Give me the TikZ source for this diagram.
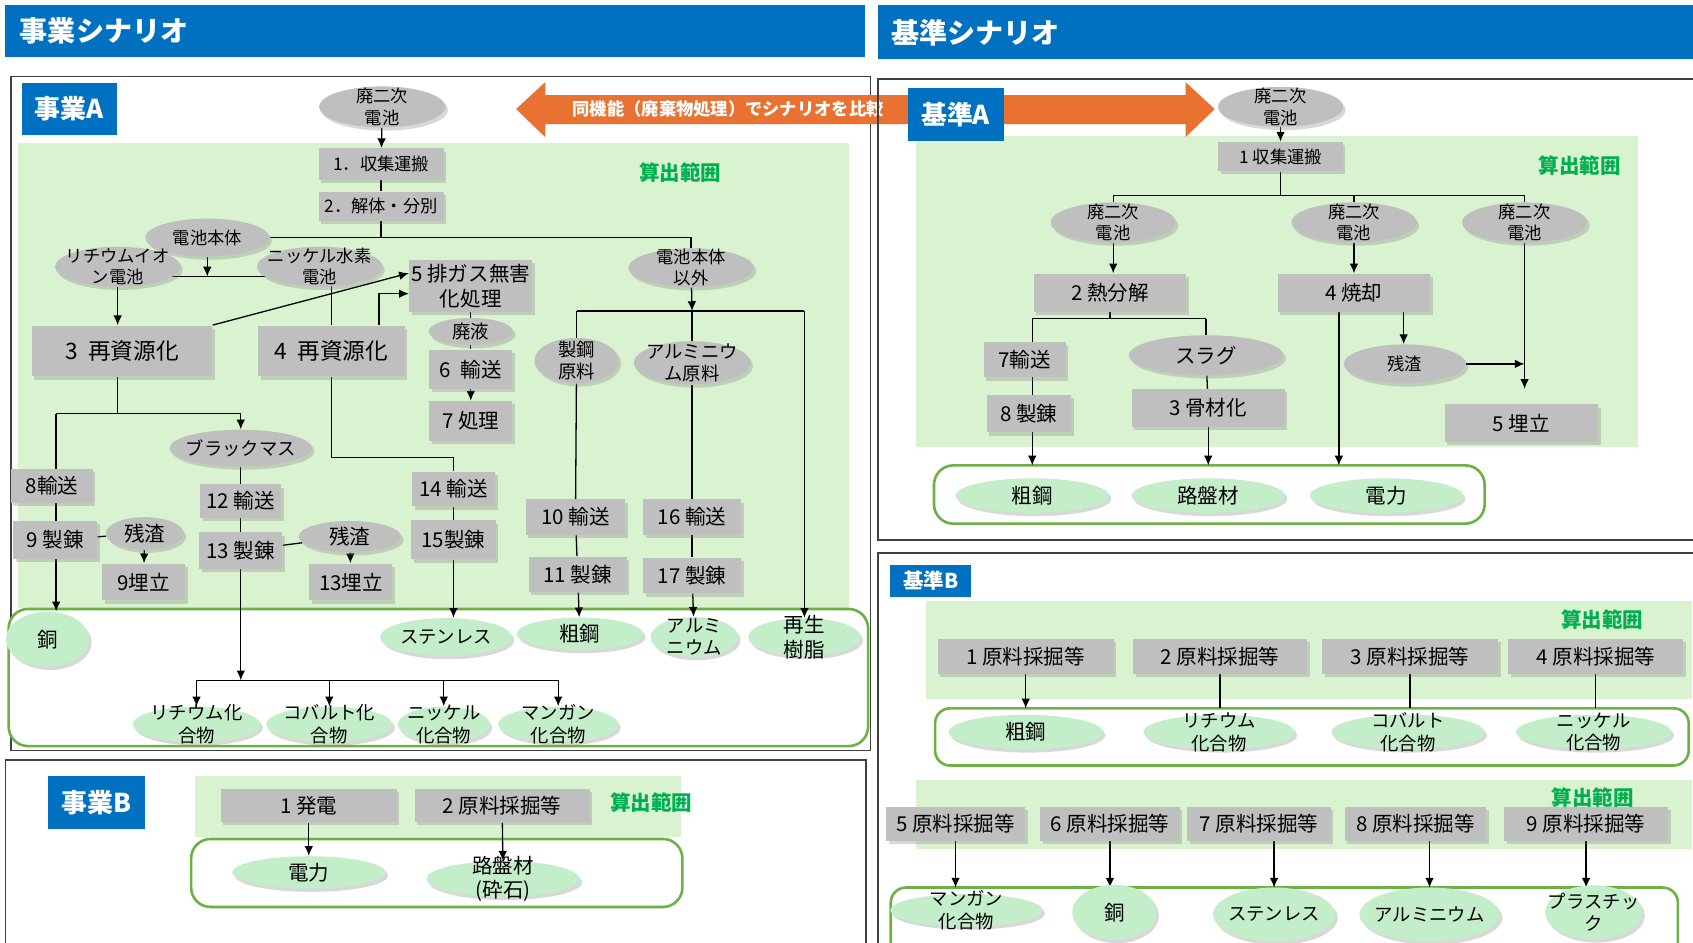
\documentclass[tikz,border=0pt]{standalone}
\usepackage{fontspec}
\setmainfont{Noto Sans CJK JP}
\usetikzlibrary{calc,shadows,arrows.meta,shapes.geometric}

\definecolor{hdrblue}{RGB}{0,112,192}
\definecolor{boxgray}{RGB}{191,191,191}
\definecolor{zonegreen}{RGB}{217,242,208}
\definecolor{prodgreen}{RGB}{196,238,202}
\definecolor{rimgreen}{RGB}{108,176,70}
\definecolor{calcgreen}{RGB}{0,176,80}
\definecolor{cmparrow}{RGB}{233,113,50}
\definecolor{framegray}{RGB}{64,64,64}

\newcommand\fsA{\fontsize{8}{9.8}\selectfont}
\newcommand\fsB{\fontsize{8.5}{10.5}\selectfont}
\newcommand\fsC{\fontsize{9.5}{11.5}\selectfont}
\newcommand\fsD{\fontsize{10.5}{12.5}\selectfont}
\newcommand\fsH{\fontsize{13}{15}\selectfont\bfseries}
\newcommand\fsT{\fontsize{12}{14}\selectfont\bfseries}

\pgfdeclarelayer{zones}
\pgfdeclarelayer{links}
\pgfsetlayers{zones,links,main}

\tikzset{
  softshadow/.style={drop shadow={opacity=0.3,shadow xshift=1.2pt,shadow yshift=-1.5pt}},
  proc/.style 2 args={rectangle, fill=boxgray, minimum width=#1*0.5pt, minimum height=#2*0.5pt, inner sep=0pt, align=center, softshadow},
  lbl/.style={align=center, inner sep=0pt, text=black},
  blob/.style n args={4}{ellipse, fill=boxgray, minimum width=#1*0.5pt, minimum height=#2*0.5pt, inner sep=0pt, softshadow, label={[lbl,font=#3]center:{#4}}},
  prod/.style n args={4}{ellipse, fill=prodgreen, minimum width=#1*0.5pt, minimum height=#2*0.5pt, inner sep=0pt, softshadow, label={[lbl,font=#3]center:{#4}}},
  tag/.style 2 args={rectangle, fill=hdrblue, text=white, minimum width=#1*0.5pt, minimum height=#2*0.5pt, inner sep=0pt},
  scopetxt/.style={text=calcgreen, font=\fsC\bfseries},
  hdrtext/.style={text=white, font=\fsH, anchor=west, inner sep=0pt},
  panel/.style={draw=framegray, fill=white, line width=0.7pt},
  rim/.style={draw=rimgreen, fill=white, line width=1.2pt, rounded corners=9pt},
  link/.style={draw=black, line width=0.6pt},
  flow/.style={link, -{Latex[length=4.5pt,width=4pt]}},
}

\begin{document}
\begin{tikzpicture}[x=0.5pt,y=-0.5pt,font=\fsB]
  \useasboundingbox (0,0) rectangle (1568,873);

  %%%%% frames, zones, output boxes %%%%%
  \begin{pgfonlayer}{zones}
    \fill[white] (0,0) rectangle (1568,873);
    \draw[panel] (10,71) rectangle (806,695);
    \draw[panel] (5,704) rectangle (802,900);
    \draw[panel] (813,73) rectangle (1600,500);
    \draw[panel] (813,512) rectangle (1600,900);

    \fill[zonegreen] (17,132) rectangle (786,563);
    \fill[zonegreen] (181,719) rectangle (631,775);
    \fill[zonegreen] (848,126) rectangle (1517,414);
    \fill[zonegreen] (858,557) rectangle (1567,647);
    \fill[zonegreen] (848,722) rectangle (1567,786);

    \draw[rim] (8,564) coordinate (jaRim) rectangle (804,691);
    \draw[rim] (177,777) coordinate (jbRim) rectangle (632,840);
    \draw[rim] (865,431) coordinate (kaRim) rectangle (1375,485);
    \draw[rim, rounded corners=7pt] (866,656) coordinate (kbRimA) rectangle (1564,709);
    \draw[rim, rounded corners=7pt] (825,822) coordinate (kbRimB) rectangle (1554,900);
  \end{pgfonlayer}

  %%%%% headers %%%%%
  \fill[hdrblue] (5,5) rectangle (801,53);
  \node[hdrtext] (jaHead) at (18,29) {事業シナリオ};
  \fill[hdrblue] (813,5) rectangle (1568,55);
  \node[hdrtext] (kaHead) at (825,30) {基準シナリオ};

  \fill[cmparrow] (478,101) -- (505,76) -- (505,88) -- (1098,88) -- (1098,76) -- (1125,101)
    -- (1098,127) -- (1098,115) -- (505,115) -- (505,127) -- cycle;
  \node[anchor=west, inner sep=0pt, text=white, font=\fontsize{8}{9.6}\selectfont\bfseries] (cmpText) at (530,101) {同機能（廃棄物処理）でシナリオを比較};
  \draw[framegray, line width=0.7pt] (813,88) -- (813,115);

  \node[tag={88}{48}, font=\fsT] (jaTag) at (64,101) {事業A};
  \node[tag={90}{49}, font=\fsT] (jbTag) at (89,743) {事業B};
  \node[tag={89}{49}, font=\fsT] (kaTag) at (885,106) {基準A};
  \node[tag={75}{30}, font=\fsC\bfseries] (kbTag) at (862,538) {基準B};

  \node[scopetxt] (jaScope) at (630,160) {算出範囲};
  \node[scopetxt] (jbScope) at (603,743) {算出範囲};
  \node[scopetxt] (kaScope) at (1463,153) {算出範囲};
  \node[scopetxt] (kbScopeA) at (1484,574) {算出範囲};
  \node[scopetxt] (kbScopeB) at (1475,739) {算出範囲};

  %%%%% 事業A %%%%%
  \node[blob={117}{38}{\fsA}{廃二次\\電池}] (jaWaste) at (354,99) {};
  \node[proc={116}{29}, font=\fsA] (ja1) at (353,152) {1．収集運搬};
  \node[proc={116}{27}, font=\fsA] (ja2) at (353,191) {2．解体・分別};
  \node[blob={115}{35}{\fsA}{電池本体}] (jaBody) at (192,220) {};
  \node[blob={116}{37}{\fsA}{リチウムイオ\\ン電池}] (jaLi) at (109,247) {};
  \node[blob={116}{37}{\fsA}{ニッケル水素\\電池}] (jaNi) at (296,247) {};
  \node[blob={116}{36}{\fsA}{電池本体\\以外}] (jaOther) at (640,248) {};
  \node[proc={167}{47}, font=\fsD] (ja3) at (113,325) {3\ \ 再資源化};
  \node[proc={136}{47}, font=\fsD] (ja4) at (307,325) {4\ \ 再資源化};
  \node[proc={114}{48}, font=\fsC] (ja5) at (436,265) {5 排ガス無害\\化処理};
  \node[blob={78}{25}{\fsB}{廃液}] (jaLiquid) at (436,307) {};
  \node[proc={77}{36}, font=\fsC] (ja6) at (436,342) {6\ \ 輸送};
  \node[proc={77}{37}, font=\fsC] (ja7) at (436,390) {7 処理};
  \node[blob={78}{42}{\fsB}{製鋼\\原料}] (jaSteelRaw) at (534,334) {};
  \node[blob={108}{40}{\fsB}{アルミニウ\\ム原料}] (jaAlRaw) at (641,336) {};
  \node[blob={132}{34}{\fsB}{ブラックマス}] (jaBlack) at (223,415) {};
  \node[proc={76}{32}, font=\fsC] (ja8) at (48,450) {8輸送};
  \node[proc={78}{35}, font=\fsC] (ja9) at (51,500) {9 製錬};
  \node[blob={72}{30}{\fsC}{残渣}] (jaSlagL) at (134,494) {};
  \node[proc={77}{34}, font=\fsC] (ja9L) at (133,539) {9埋立};
  \node[proc={75}{31}, font=\fsC] (ja12) at (223,464) {12 輸送};
  \node[proc={77}{34}, font=\fsC] (ja13) at (223,510) {13 製錬};
  \node[blob={95}{29}{\fsC}{残渣}] (jaSlagR) at (324,497) {};
  \node[proc={77}{34}, font=\fsC] (ja13L) at (325,539) {13埋立};
  \node[proc={77}{32}, font=\fsC] (ja14) at (420,453) {14 輸送};
  \node[proc={78}{36}, font=\fsC] (ja15) at (420,500) {15製錬};
  \node[proc={92}{33}, font=\fsC] (ja10) at (533,479) {10 輸送};
  \node[proc={91}{33}, font=\fsC] (ja11) at (535,532) {11 製錬};
  \node[proc={91}{33}, font=\fsC] (ja16) at (641,479) {16 輸送};
  \node[proc={91}{33}, font=\fsC] (ja17) at (641,533) {17 製錬};
  \node[prod={77}{51}{\fsC}{銅}] (jaCu) at (44,592) {};
  \node[prod={122}{35}{\fsB}{ステンレス}] (jaSus) at (413,590) {};
  \node[prod={117}{30}{\fsC}{粗鋼}] (jaCrude) at (537,587) {};
  \node[prod={81}{37}{\fsB}{アルミ\\ニウム}] (jaAl) at (643,590) {};
  \node[prod={104}{35}{\fsC}{再生\\樹脂}] (jaResin) at (745,590) {};
  \node[prod={118}{33}{\fsB}{リチウム化\\合物}] (jaLiC) at (182,671) {};
  \node[prod={117}{33}{\fsB}{コバルト化\\合物}] (jaCoC) at (305,671) {};
  \node[prod={85}{33}{\fsB}{ニッケル\\化合物}] (jaNiC) at (411,671) {};
  \node[prod={111}{33}{\fsB}{マンガン\\化合物}] (jaMnC) at (517,671) {};

  %%%%% 事業B %%%%%
  \node[proc={163}{31}, font=\fsC] (jb1) at (286,746) {1 発電};
  \node[proc={162}{31}, font=\fsC] (jb2) at (465,746) {2 原料採掘等};
  \node[prod={142}{30}{\fsC}{電力}] (jbPower) at (286,808) {};
  \node[prod={142}{33}{\fsC}{路盤材\\(砕石)}] (jbRoad) at (466,814) {};

  %%%%% 基準A %%%%%
  \node[blob={116}{37}{\fsA}{廃二次\\電池}] (kaWaste) at (1186,99) {};
  \node[proc={115}{27}, font=\fsA] (ka1) at (1186,145) {1 収集運搬};
  \node[blob={116}{37}{\fsA}{廃二次\\電池}] (kaW1) at (1031,206) {};
  \node[blob={116}{37}{\fsA}{廃二次\\電池}] (kaW2) at (1254,206) {};
  \node[blob={116}{37}{\fsA}{廃二次\\電池}] (kaW3) at (1412,206) {};
  \node[proc={141}{35}, font=\fsC] (ka2) at (1028,271) {2 熱分解};
  \node[proc={141}{35}, font=\fsC] (ka4) at (1254,271) {4 焼却};
  \node[proc={76}{33}, font=\fsC] (ka7) at (949,333) {7輸送};
  \node[proc={78}{35}, font=\fsC] (ka8) at (953,383) {8 製錬};
  \node[blob={143}{37}{\fsC}{スラグ}] (kaSlag) at (1117,329) {};
  \node[proc={142}{35}, font=\fsC] (ka3) at (1119,378) {3 骨材化};
  \node[blob={113}{36}{\fsA}{残渣}] (kaRes) at (1301,337) {};
  \node[proc={142}{35}, font=\fsC] (ka5) at (1409,392) {5 埋立};
  \node[prod={142}{32}{\fsC}{粗鋼}] (kaCrude) at (956,459) {};
  \node[prod={142}{32}{\fsC}{路盤材}] (kaRoad) at (1119,459) {};
  \node[prod={142}{32}{\fsC}{電力}] (kaPower) at (1284,459) {};

  %%%%% 基準B %%%%%
  \node[proc={163}{32}, font=\fsC] (kb1) at (950,608) {1 原料採掘等};
  \node[proc={161}{32}, font=\fsC] (kb2) at (1130,608) {2 原料採掘等};
  \node[proc={163}{32}, font=\fsC] (kb3) at (1306,608) {3 原料採掘等};
  \node[proc={162}{32}, font=\fsC] (kb4) at (1478,608) {4 原料採掘等};
  \node[prod={143}{32}{\fsC}{粗鋼}] (kbCrude) at (950,678) {};
  \node[prod={140}{32}{\fsB}{リチウム\\化合物}] (kbLi) at (1129,678) {};
  \node[prod={142}{32}{\fsB}{コバルト\\化合物}] (kbCo) at (1304,678) {};
  \node[prod={144}{32}{\fsB}{ニッケル\\化合物}] (kbNi) at (1476,678) {};
  \node[proc={129}{31}, font=\fsC] (kb5) at (885,763) {5 原料採掘等};
  \node[proc={129}{31}, font=\fsC] (kb6) at (1028,763) {6 原料採掘等};
  \node[proc={133}{31}, font=\fsC] (kb7) at (1166,763) {7 原料採掘等};
  \node[proc={131}{31}, font=\fsC] (kb8) at (1311,763) {8 原料採掘等};
  \node[proc={152}{31}, font=\fsC] (kb9) at (1469,763) {9 原料採掘等};
  \node[prod={141}{30}{\fsB}{マンガン\\化合物}] (kbMn) at (895,843) {};
  \node[prod={78}{51}{\fsC}{銅}] (kbCu) at (1032,845) {};
  \node[prod={113}{50}{\fsB}{ステンレス}] (kbSus) at (1180,847) {};
  \node[prod={130}{50}{\fsB}{アルミニウム}] (kbAl) at (1324,847) {};
  \node[prod={90}{50}{\fsB}{プラスチッ\\ク}] (kbPl) at (1476,845) {};

  %%%%% connectors %%%%%
  \begin{pgfonlayer}{links}
    % 事業A
    \coordinate (jaJoin) at (186,256);
    \coordinate (jaFan) at (641,288);
    \coordinate (jaForkL) at (52,383);
    \coordinate (jaForkR) at (223,383);
    \coordinate (jaHub) at (221,630);
    \coordinate (jaBend) at (307,424);
    \draw[flow] (jaWaste) -- (ja1);
    \draw[link] (ja1) -- (ja2);
    \draw[link] (ja2.south) |- (jaBody.east);
    \draw[link] (jaBody.east -| ja2.south) -| (jaOther.north);
    \draw[flow] (jaBody.south) -- (jaBody.south |- jaJoin);
    \draw[link] (jaLi.center |- jaJoin) -- (jaNi.center |- jaJoin);
    \draw[flow] (jaLi) -- (jaLi |- ja3.north);
    \draw[link] (ja4.north) -- (ja4.north |- jaNi.center);
    \draw[flow] (ja3.north east) -- ([yshift=6pt]ja5.west);
    \draw[flow] ([xshift=22pt]ja4.north) |- ([yshift=-3.5pt]ja5.west);
    \draw[link] (ja5) -- (jaLiquid) -- (ja6);
    \draw[flow] (ja6) -- (ja7);
    \draw[flow] (jaOther) -- (jaFan);
    \draw[link] (jaSteelRaw.north |- jaFan) -- (jaResin.north |- jaFan);
    \draw[link] (jaSteelRaw.north |- jaFan) -- (jaSteelRaw);
    \draw[link] (jaSteelRaw) -- (ja10) -- (ja11);
    \draw[flow] (ja11) -- (jaCrude);
    \draw[link] (jaFan) -- (jaAlRaw);
    \draw[link] (jaAlRaw) -- (ja16) -- (ja17);
    \draw[flow] (ja17) -- (jaAl);
    \draw[flow] (jaResin.north |- jaFan) -- (jaResin);
    \draw[link] (jaLi |- ja3.south) -- (jaLi |- jaForkL);
    \draw[link] (jaForkL) -- (jaForkR);
    \draw[flow] (jaForkR) -- (jaBlack);
    \draw[flow] (jaForkL) -- (jaForkL |- jaCu.north);
    \draw[link] (jaBlack) -- (ja12) -- (ja13);
    \draw[flow] (ja13) -- (ja13 |- jaHub);
    \draw[link] (jaLiC |- jaHub) -- (jaMnC |- jaHub);
    \foreach \c in {jaLiC,jaCoC,jaNiC,jaMnC}
      \draw[flow] (\c |- jaHub) -- (\c);
    \draw[link] (ja9) -- (jaSlagL);
    \draw[flow] (jaSlagL) -- (ja9L);
    \draw[link] (ja13) -- (jaSlagR);
    \draw[flow] (jaSlagR) -- (ja13L);
    \draw[link] (ja4) -- (jaBend) -| (ja14);
    \draw[link] (ja14) -- (ja15);
    \draw[flow] (ja15) -- (ja15 |- jaSus.north);

    % 事業B
    \draw[flow] (jb1) -- (jbPower);
    \draw[flow] (jb2) -- (jbRoad);

    % 基準A
    \coordinate (kaSplit) at (1186,181);
    \coordinate (kaSplit2) at (1028,295);
    \coordinate (ka4out) at ([xshift=-7pt]ka4.south);
    \coordinate (ka4res) at ([xshift=23pt]ka4.south);
    \coordinate (kaLand) at ($(ka5.north)+(0,-14)$);
    \draw[flow] (kaWaste) -- (ka1);
    \draw[link] (ka1) -- (kaSplit);
    \draw[link] (kaW1 |- kaSplit) -- (kaW3 |- kaSplit);
    \foreach \w in {kaW1,kaW2,kaW3}
      \draw[link] (\w |- kaSplit) -- (\w);
    \draw[flow] (kaW1) -- (kaW1 |- ka2.north);
    \draw[flow] (kaW2) -- (ka4);
    \draw[link] (ka2) -- (kaSplit2);
    \draw[link] (kaCrude |- kaSplit2) -- (kaSlag |- kaSplit2);
    \draw[flow] (kaCrude |- kaSplit2) -- (kaCrude |- kaRim);
    \draw[link] (kaSlag |- kaSplit2) -- (kaSlag);
    \draw[link] (kaSlag) -- (ka3);
    \draw[flow] (ka3) -- (ka3 |- kaRim);
    \draw[flow] (ka4out) -- (ka4out |- kaRim);
    \draw[flow] (ka4res) -- (ka4res |- kaRes.north);
    \draw[flow] (kaW3) -- (kaW3 |- kaLand);
    \draw[flow] (kaRes) -- (kaRes -| kaW3);

    % 基準B
    \draw[flow] (kb1) -- (kb1 |- kbRimA);
    \foreach \src in {kb2,kb3,kb4}
      \draw[link] (\src) -- (\src |- kbRimA);
    \foreach \src/\col in {kb5/kb5,kb6/kb6,kb7/kbSus,kb8/kbAl,kb9/kb9}
      \draw[flow] (\col |- \src.south) -- (\col |- kbRimB);
  \end{pgfonlayer}
\end{tikzpicture}
\end{document}
